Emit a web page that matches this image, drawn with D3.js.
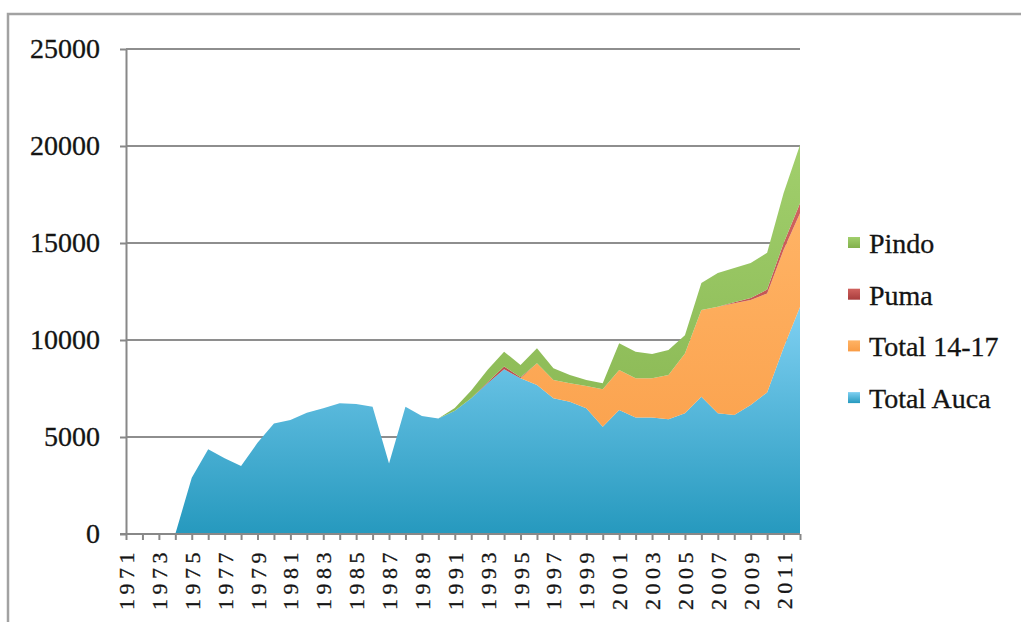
<!DOCTYPE html>
<html><head><meta charset="utf-8">
<script src="https://cdn.jsdelivr.net/npm/d3@7"></script>
<style>body{margin:0;background:#fff;overflow:hidden}</style>
</head><body>
<svg id="c" width="1021" height="622"></svg>
<script>
const years = [1971,1972,1973,1974,1975,1976,1977,1978,1979,1980,1981,1982,1983,1984,1985,1986,1987,1988,1989,1990,
  1991,1992,1993,1994,1995,1996,1997,1998,1999,2000,2001,2002,2003,2004,2005,2006,2007,2008,2009,2010,2011,2012];
const totalAuca = [0,0,0,0,2900,4370,3900,3500,4700,5700,5870,6250,6480,6740,6700,6560,3640,6560,6080,5960,
  6350,7000,7770,8490,8030,7680,7000,6820,6480,5530,6390,6010,6010,5910,6220,7080,6220,6130,6650,7300,9600,11700];
const total1417 = [0,0,0,0,0,0,0,0,0,0,0,0,0,0,0,0,0,0,0,0,
  0,0,0,0,0,1120,940,950,1150,1930,2060,2020,2020,2290,3090,4470,5500,5760,5410,5100,5040,4830];
const puma = [0,0,0,0,0,0,0,0,0,0,0,0,0,0,0,0,0,0,0,0,
  0,0,50,150,50,0,0,0,0,0,0,0,0,0,0,0,0,50,100,200,350,520];
const pindo = [0,0,0,0,0,0,0,0,0,0,0,0,0,0,0,0,0,0,0,0,
  150,400,650,760,630,770,600,430,310,310,1380,1370,1250,1290,940,1390,1730,1770,1810,1900,2570,3000];
const yTicks = [0,5000,10000,15000,20000,25000];
const xLabelYears = [1971,1973,1975,1977,1979,1981,1983,1985,1987,1989,1991,1993,1995,1997,1999,2001,2003,2005,2007,2009,2011];
const seriesKeys = ["auca","t1417","puma","pindo"];
const legendOrder = ["pindo","puma","t1417","auca"];
const labelOf = {auca:"Total Auca", t1417:"Total 14-17", puma:"Puma", pindo:"Pindo"};

const colors = {
  auca:  ["#7fd0f2","#2699be"],
  t1417: ["#ffb365","#f99c45"],
  puma:  ["#d0625e","#a83c3c"],
  pindo: ["#a1cf6c","#82b04c"]
};

const table = years.map((yr,i)=>({year:yr, auca:totalAuca[i], t1417:total1417[i], puma:puma[i], pindo:pindo[i]}));

const svg = d3.select("#c");
const font = "'Liberation Serif', 'Times New Roman', serif";
const ink = "#141414";

// frame
svg.append("rect").attr("x",8).attr("y",14).attr("width",1100).attr("height",700)
  .attr("fill","none").attr("stroke","#a2a2a2").attr("stroke-width",2.5);

const x = d3.scalePoint().domain(years).range([126,800]).padding(0);
const y = d3.scaleLinear().domain([0,25000]).range([534,49]);

const defs = svg.append("defs");
seriesKeys.forEach(k=>{
  const g = defs.append("linearGradient").attr("id","g_"+k).attr("x1",0).attr("y1",0).attr("x2",0).attr("y2",1);
  g.append("stop").attr("offset","0%").attr("stop-color",colors[k][0]);
  g.append("stop").attr("offset","100%").attr("stop-color",colors[k][1]);
});

// gridlines
svg.append("g").selectAll("line").data(yTicks.filter(d=>d>0)).join("line")
  .attr("x1",126).attr("x2",800).attr("y1",d=>y(d)).attr("y2",d=>y(d))
  .attr("stroke","#8e8e8e").attr("stroke-width",2);

// areas
const stacked = d3.stack().keys(seriesKeys)(table);
const area = d3.area().x(d=>x(d.data.year)).y0(d=>y(d[0])).y1(d=>y(d[1]));
svg.append("g").selectAll("path").data(stacked).join("path")
  .attr("d",area).attr("fill",d=>"url(#g_"+d.key+")");

// y axis
const yAxis = svg.append("g").attr("transform","translate(126,0)")
  .call(d3.axisLeft(y).tickValues(yTicks).tickSize(6).tickSizeOuter(0).tickPadding(20).tickFormat(d=>String(d)));
yAxis.selectAll("path,line").attr("stroke","#888").attr("stroke-width",2);
yAxis.selectAll("text").attr("font-family",font).attr("font-size",28).attr("fill",ink)
  .attr("stroke",ink).attr("stroke-width",0.3);

// x axis
const xAxis = svg.append("g").attr("transform","translate(0,534)")
  .call(d3.axisBottom(x).tickSize(6).tickSizeOuter(0).tickFormat(d=>xLabelYears.includes(d)?String(d):""));
xAxis.select(".domain").attr("d","M120,0H800");
xAxis.selectAll("path,line").attr("stroke","#888").attr("stroke-width",2);
xAxis.selectAll("text").attr("font-family",font).attr("font-size",22).attr("fill",ink)
  .attr("stroke",ink).attr("stroke-width",0.3)
  .attr("letter-spacing",4.5).attr("text-anchor","end").attr("y",0).attr("x",0).attr("dy",null)
  .attr("transform","rotate(-90) translate(-14,7.5)");

// legend
const lg = svg.append("g");
legendOrder.forEach((k,i)=>{
  const by = 253 + i*51.7;
  lg.append("rect").attr("x",848).attr("y",by-16).attr("width",12).attr("height",11)
    .attr("fill","url(#g_"+k+")");
  lg.append("text").attr("x",869).attr("y",by).text(labelOf[k])
    .attr("font-family",font).attr("font-size",28).attr("fill",ink)
    .attr("stroke",ink).attr("stroke-width",0.3);
});
</script>
</body></html>
